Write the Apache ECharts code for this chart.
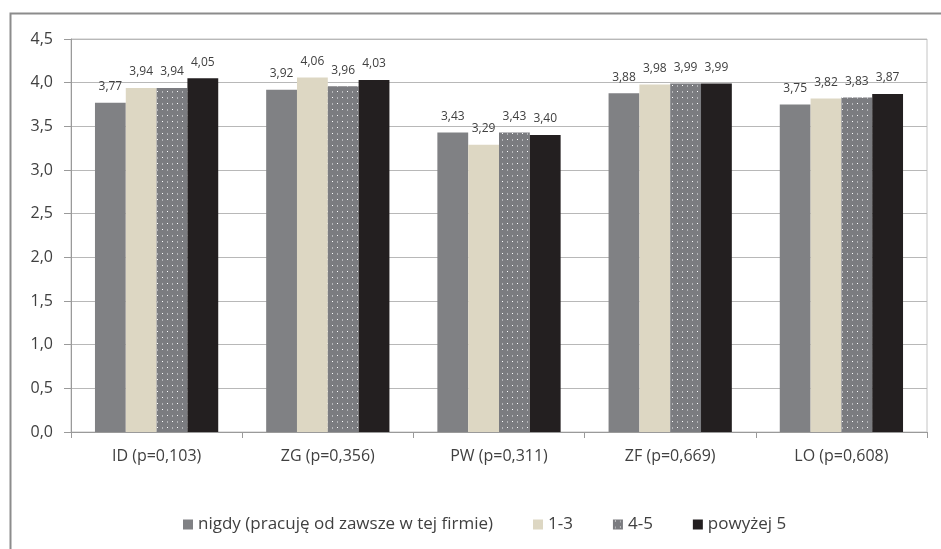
<!DOCTYPE html>
<html>
<head>
<meta charset="utf-8">
<script src="https://cdn.jsdelivr.net/npm/echarts@6/dist/echarts.min.js"></script>
<style>
  html, body { margin: 0; padding: 0; background: #fff; }
  #chart { width: 941px; height: 549px; }
</style>
</head>
<body>
<div id="chart"></div>
<script>
// Categories (variables with their p-values) and the four tenure groups
const categories = ['ID (p=0,103)', 'ZG (p=0,356)', 'PW (p=0,311)', 'ZF (p=0,669)', 'LO (p=0,608)'];
const seriesNames = ['nigdy (pracuję od zawsze w tej firmie)', '1-3', '4-5', 'powyżej 5'];
const nigdy   = [3.77, 3.92, 3.43, 3.88, 3.75];
const lata1_3 = [3.94, 4.06, 3.29, 3.98, 3.82];
const lata4_5 = [3.94, 3.96, 3.43, 3.99, 3.83];
const powyzej5 = [4.05, 4.03, 3.40, 3.99, 3.87];
const yTicks = [0, 0.5, 1, 1.5, 2, 2.5, 3, 3.5, 4, 4.5];

// Dotted fill for the "4-5" bars
function dotPattern() {
  const c = document.createElement('canvas');
  c.width = 10; c.height = 12;
  const g = c.getContext('2d');
  g.fillStyle = '#7b7c80';
  g.fillRect(0, 0, 10, 12);
  g.fillStyle = '#ffffff';
  g.fillRect(2, 1, 1, 1);
  g.fillRect(7, 7, 1, 1);
  g.fillStyle = '#b4b5b8';
  g.fillRect(7, 1, 1, 2);
  g.fillRect(2, 7, 1, 2);
  return c;
}

const fills = ['#808184', '#ddd7c3', { image: dotPattern(), repeat: 'repeat' }, '#231f20'];
const values = [nigdy, lata1_3, lata4_5, powyzej5];

const fmt = v => v.toFixed(2).replace('.', ',');

const chart = echarts.init(document.getElementById('chart'), null, { renderer: 'canvas' });

chart.setOption({
  animation: false,
  backgroundColor: '#ffffff',
  textStyle: { fontFamily: 'Open Sans' },
  graphic: [{
    type: 'rect',
    left: 8, top: 11,
    shape: { width: 960, height: 560 },
    style: { fill: 'none', stroke: '#8c8c8c', lineWidth: 2 },
    silent: true, z: -1
  }],
  grid: {
    left: 71, right: 14, top: 39, bottom: 117,
    show: true, borderColor: '#c4c4c4', borderWidth: 1
  },
  legend: {
    left: 178, top: 511,
    itemWidth: 10, itemHeight: 10, itemGap: 40,
    icon: 'rect',
    textStyle: { fontFamily: 'Open Sans', fontSize: 17, color: '#404040' },
    data: seriesNames
  },
  xAxis: {
    type: 'category',
    data: categories,
    axisLine: { lineStyle: { color: '#9a9a9a', width: 1 } },
    axisTick: { show: true, length: 6, lineStyle: { color: '#9a9a9a' } },
    axisLabel: { fontFamily: 'Open Sans', fontSize: 16, color: '#404040', margin: 16 }
  },
  yAxis: {
    type: 'value',
    min: 0, max: 4.5, interval: 0.5,
    axisLine: { show: true, lineStyle: { color: '#9a9a9a', width: 1 } },
    axisTick: { show: true, length: 7, lineStyle: { color: '#9a9a9a' } },
    splitLine: { lineStyle: { color: '#b8b8b8', width: 1 } },
    axisLabel: {
      fontFamily: 'Open Sans', fontSize: 16, color: '#404040', margin: 18,
      formatter: v => yTicks.includes(v) ? v.toFixed(1).replace('.', ',') : ''
    }
  },
  series: seriesNames.map((name, i) => ({
    name,
    type: 'bar',
    data: values[i],
    barGap: '0%',
    barCategoryGap: '28%',
    itemStyle: { color: fills[i] },
    label: {
      show: true,
      position: 'top',
      distance: 10,
      fontFamily: 'Open Sans',
      fontSize: 12,
      color: '#404040',
      formatter: p => fmt(p.value)
    }
  }))
});
</script>
</body>
</html>
